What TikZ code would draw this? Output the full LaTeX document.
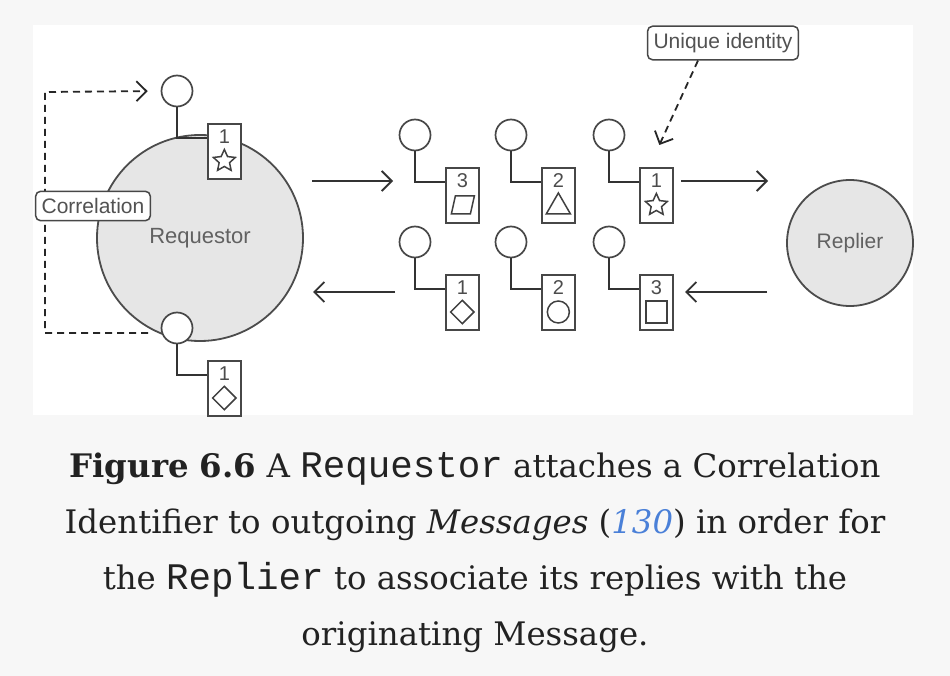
\documentclass[tikz,border=0pt]{standalone}
\usepackage{fontspec}
\setmainfont{DejaVu Serif}
\setmonofont{Liberation Mono}
\newfontfamily\hand{Liberation Sans}
\usetikzlibrary{shapes.geometric,arrows.meta}
\definecolor{capink}{HTML}{222222}
\definecolor{linkblue}{HTML}{4A80D8}
\definecolor{bubble}{HTML}{E6E6E6}
\newcommand\msgunit[5]{%
  \node[port] (#1c) at (#2, #3-32) {};
  \node[msgbox] (#1b) at (#2+30, #3) {};
  \node[numlbl] (#1n) at ([yshift=-14pt]#1b.north) {#4};
  \node[#5] (#1s) at ([yshift=-38pt]#1b.north) {};
  \draw[wire] (#1c.south) |- ([yshift=-15pt]#1b.north west);
}
\begin{document}
\begin{tikzpicture}[x=1pt,y=-1pt,
  port/.style={circle, draw=black!72, line width=1.7pt, fill=white, minimum size=31pt, inner sep=0pt},
  msgbox/.style={rectangle, draw=black!72, line width=1.7pt, fill=white, minimum width=33pt, minimum height=55pt, inner sep=0pt, anchor=north west},
  numlbl/.style={font=\hand\fontsize{20}{20}\selectfont, text=black!70, inner sep=0pt},
  sym/.style={draw=black!75, line width=1.5pt, inner sep=0pt},
  starsym/.style={sym, star, star points=5, star point ratio=2.1, minimum size=23pt},
  blanksym/.style={inner sep=0pt, minimum size=0pt},
  trisym/.style={sym, regular polygon, regular polygon sides=3, minimum size=28pt, yshift=-2pt},
  diasym/.style={sym, diamond, minimum size=24pt},
  circsym/.style={sym, circle, minimum size=22pt},
  sqsym/.style={sym, rectangle, minimum width=21pt, minimum height=22pt},
  wire/.style={draw=black!80, line width=2.4pt},
  flow/.style={draw=black!80, line width=1.8pt, -{Straight Barb[length=10pt,width=20pt,line width=1.8pt]}},
  dflow/.style={draw=black!85, line width=1.8pt, dash pattern=on 7pt off 5pt, -{Straight Barb[length=10pt,width=20pt,line width=1.8pt]}},
  callout/.style={draw=black!72, line width=1.5pt, fill=white, rounded corners=5pt, font=\hand\fontsize{21}{21}\selectfont, text=black!68, inner xsep=6pt, inner ysep=7pt},
  bigcirc/.style={circle, draw=black!70, line width=1.8pt, fill=bubble, inner sep=0pt, text=black!62},
  capline/.style={anchor=base, text=capink, inner sep=0pt, font=\fontsize{32.4}{40}\selectfont},
  monoword/.style={}
]
\useasboundingbox (0,0) rectangle (950,676);
\fill[black!3] (0,0) rectangle (950,676);
\fill[white] (33,25) rectangle (913,415);

% Requestor and Replier
\node[bigcirc, minimum size=206pt, font=\hand\fontsize{22}{22}\selectfont] (req) at (200,238) {Requestor};
\node[bigcirc, minimum size=126pt, font=\hand\fontsize{21}{21}\selectfont] (rep) at (850,243) {Replier};

% Requestor's own messages
\msgunit{rt}{177}{123}{1}{starsym}
\msgunit{rb}{177}{360}{1}{diasym}

% Messages in transit: requests
\msgunit{qa}{415}{167}{3}{blanksym}
\draw[sym] ([shift={(-11,9)}]qas.center) -- ++(19,0) -- ++(4,-18) -- ++(-19,0) -- cycle;
\msgunit{qb}{511}{167}{2}{trisym}
\msgunit{qc}{609}{167}{1}{starsym}
% replies
\msgunit{pa}{415}{274}{1}{diasym}
\msgunit{pb}{511}{274}{2}{circsym}
\msgunit{pc}{609}{274}{3}{sqsym}

% flow arrows
\coordinate (f1s) at (312,181); \coordinate (f1e) at (393,181);
\coordinate (f2s) at (681,181); \coordinate (f2e) at (768,181);
\coordinate (f3s) at (767,292); \coordinate (f3e) at (685,292);
\coordinate (f4s) at (395,292); \coordinate (f4e) at (313,292);
\draw[flow] (f1s) -- (f1e);
\draw[flow] (f2s) -- (f2e);
\draw[flow] (f3s) -- (f3e);
\draw[flow] (f4s) -- (f4e);

% correlation loop
\coordinate (dl1) at (148,333);
\coordinate (dl2) at (45,333);
\coordinate (dl3) at (45,92);
\draw[dflow, shorten >=13pt] (dl1) -- (dl2) -- (dl3) -- (rtc.west);
\node[callout] (corr) at (93,206) {Correlation};

% unique identity
\node[callout] (uid) at (723,43) {Unique identity};
\draw[dflow] ([xshift=-25pt]uid.south) -- ([xshift=3pt,yshift=22pt]qcb.north);

% caption
\node[capline] (cap1) at (475,477) {\textbf{Figure 6.6} A {\ttfamily\fontsize{37.5}{40}\selectfont Requestor} attaches a Correlation};
\node[capline] (cap2) at (475,533) {Identifier to outgoing \textit{Messages} ({\color{linkblue}\textit{130}}) in order for};
\node[capline] (cap3) at (475,589) {the {\ttfamily\fontsize{37.5}{40}\selectfont Replier} to associate its replies with the};
\node[capline] (cap4) at (475,645) {originating Message.};
\end{tikzpicture}
\end{document}
